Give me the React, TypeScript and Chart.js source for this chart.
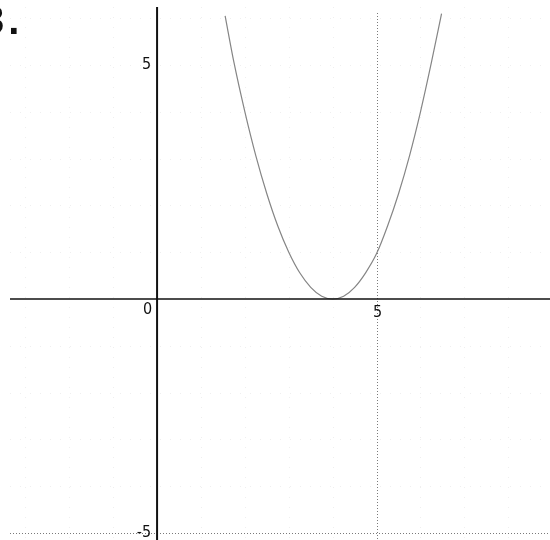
import React, { useEffect, useRef } from "react";
import { Chart, registerables } from "chart.js";

Chart.register(...registerables);

// Data
const curveX = [1.55, 1.75, 2, 2.25, 2.5, 2.75, 3, 3.25, 3.5, 3.75, 4, 4.25, 4.5, 4.75, 5, 5.25, 5.5, 5.75, 6, 6.25, 6.48];
const curveY = [6.05, 5.06, 4, 3.06, 2.25, 1.56, 1, 0.56, 0.25, 0.06, 0, 0.06, 0.25, 0.56, 0.97, 1.56, 2.25, 3.06, 4, 5.06, 6.1];
const xRange = [-3.35, 8.95];
const yRange = [-5.15, 6.24];
const xTickValues = [5];
const xTickLabels = ["5"];
const yTickValues = [5, -5];
const yTickLabels = ["5", "-5"];
const originLabel = "0";
const majorXGrid = [5];
const majorYGrid = [-5];
const problemLabel = "3.";

const LABEL_FONT = '16px "Liberation Sans Narrow", "DejaVu Sans Condensed", "Arial Narrow", sans-serif';

const axesPlugin = {
  id: "mathAxes",
  beforeDatasetsDraw(chart: any) {
    const { ctx, chartArea, scales } = chart;
    const { left, right, top, bottom } = chartArea;
    const xs = scales.x;
    const ys = scales.y;
    ctx.save();
    // faint minor grid
    ctx.strokeStyle = "#efefef";
    ctx.lineWidth = 1;
    ctx.setLineDash([1, 9]);
    for (let i = Math.ceil(xRange[0]); i <= Math.floor(xRange[1]); i++) {
      if (i === 0 || majorXGrid.includes(i)) continue;
      const px = Math.round(xs.getPixelForValue(i)) + 0.5;
      ctx.beginPath();
      ctx.moveTo(px, top);
      ctx.lineTo(px, bottom);
      ctx.stroke();
    }
    for (let j = Math.ceil(yRange[0]); j <= Math.floor(yRange[1]); j++) {
      if (j === 0 || majorYGrid.includes(j)) continue;
      const py = Math.round(ys.getPixelForValue(j)) + 0.5;
      ctx.beginPath();
      ctx.moveTo(left, py);
      ctx.lineTo(right, py);
      ctx.stroke();
    }
    // major dotted lines
    ctx.strokeStyle = "#7a7a7a";
    ctx.setLineDash([1, 2]);
    majorXGrid.forEach((v) => {
      const px = Math.round(xs.getPixelForValue(v)) + 0.5;
      ctx.beginPath();
      ctx.moveTo(px, top + 6);
      ctx.lineTo(px, bottom);
      ctx.stroke();
    });
    majorYGrid.forEach((v) => {
      const py = Math.round(ys.getPixelForValue(v)) + 0.5;
      ctx.beginPath();
      ctx.moveTo(left, py);
      ctx.lineTo(right, py);
      ctx.stroke();
    });
    ctx.restore();
  },
  afterDatasetsDraw(chart: any) {
    const { ctx, chartArea, scales } = chart;
    const { left, right, top, bottom } = chartArea;
    const xs = scales.x;
    const ys = scales.y;
    const x0 = xs.getPixelForValue(0);
    const y0 = ys.getPixelForValue(0);
    ctx.save();
    ctx.setLineDash([]);
    ctx.strokeStyle = "#111";
    ctx.lineWidth = 1.6;
    ctx.beginPath();
    ctx.moveTo(left, y0);
    ctx.lineTo(right, y0);
    ctx.stroke();
    ctx.lineWidth = 2;
    ctx.beginPath();
    ctx.moveTo(x0, top);
    ctx.lineTo(x0, bottom);
    ctx.stroke();

    ctx.fillStyle = "#111";
    ctx.font = LABEL_FONT;
    // x tick labels
    ctx.textAlign = "center";
    ctx.textBaseline = "top";
    xTickValues.forEach((v, i) => {
      ctx.fillText(xTickLabels[i], xs.getPixelForValue(v) + 1, y0 + 6);
    });
    // origin label
    ctx.textAlign = "right";
    ctx.fillText(originLabel, x0 - 5, y0 + 3);
    // y tick labels
    ctx.textBaseline = "middle";
    yTickValues.forEach((v, i) => {
      ctx.fillText(yTickLabels[i], x0 - 6, ys.getPixelForValue(v));
    });
    ctx.restore();
  },
};

export default function App() {
  const canvasRef = useRef<HTMLCanvasElement | null>(null);

  useEffect(() => {
    if (!canvasRef.current) return;
    const points = curveX.map((x, i) => ({ x, y: curveY[i] }));
    const chart = new Chart(canvasRef.current, {
      type: "scatter",
      data: {
        datasets: [
          {
            data: points,
            showLine: true,
            borderColor: "#858585",
            borderWidth: 1.2,
            pointRadius: 0,
            cubicInterpolationMode: "monotone",
            fill: false,
          } as any,
        ],
      },
      options: {
        responsive: false,
        animation: false,
        layout: { padding: { left: 10, top: 7, right: 0, bottom: 0 } },
        plugins: { legend: { display: false }, tooltip: { enabled: false } },
        scales: {
          x: { type: "linear", min: xRange[0], max: xRange[1], display: false },
          y: { type: "linear", min: yRange[0], max: yRange[1], display: false },
        },
      },
      plugins: [axesPlugin],
    });
    return () => chart.destroy();
  }, []);

  return (
    <div style={{ position: "fixed", left: 0, top: 0, width: 550, height: 540, background: "#fff", overflow: "hidden" }}>
      <canvas ref={canvasRef} width={550} height={540} style={{ display: "block" }} />
      <div
        style={{
          position: "absolute",
          left: -18,
          top: 0,
          font: 'bold 40px "Liberation Sans", Arial, sans-serif',
          lineHeight: 1,
          letterSpacing: 4,
          color: "#111",
          whiteSpace: "nowrap",
        }}
      >
        {problemLabel}
      </div>
    </div>
  );
}
